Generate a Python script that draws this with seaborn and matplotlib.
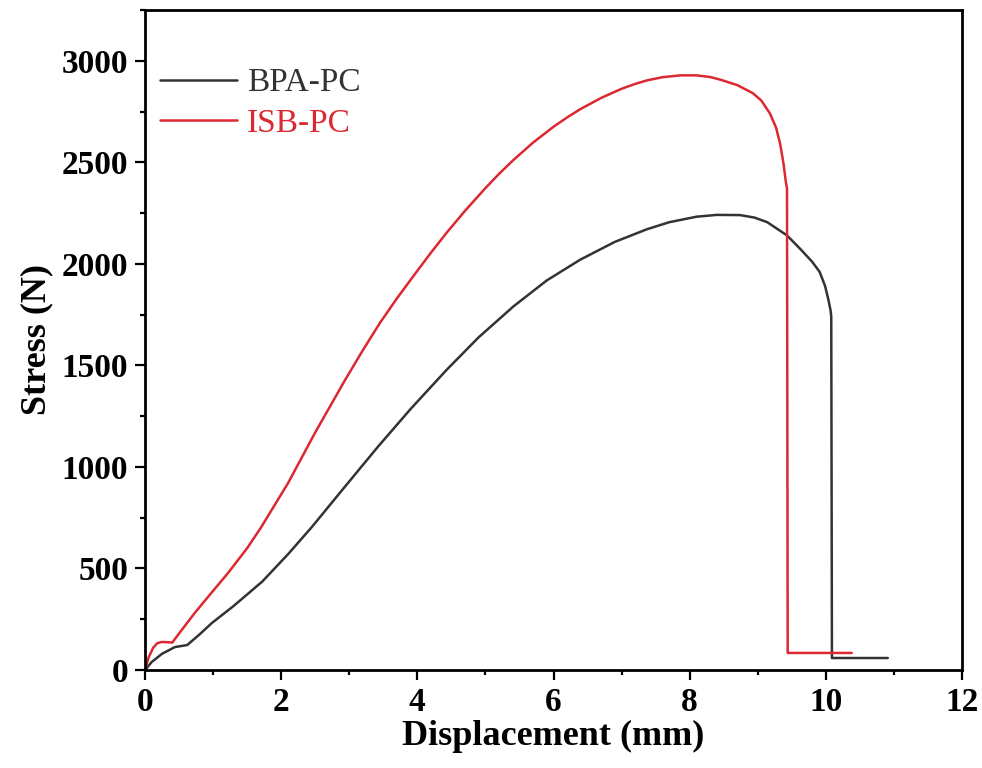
import pandas as pd
import matplotlib
matplotlib.use("Agg")
import matplotlib.pyplot as plt
from matplotlib.ticker import MultipleLocator
import seaborn as sns

# Data
bpa_x = [0, 0.1, 0.25, 0.44, 0.62, 0.8, 0.98, 1.3, 1.72, 2.1, 2.45, 2.9,
         3.42, 3.9, 4.43, 4.9, 5.41, 5.9, 6.39, 6.9, 7.37, 7.7, 8.1, 8.4,
         8.74, 8.95, 9.14, 9.43, 9.62, 9.8, 9.91, 9.99, 10.04, 10.07, 10.08,
         10.09, 10.91]
bpa_y = [0, 40, 80, 113, 123, 175, 231, 315, 435, 570, 704, 888,
         1099, 1285, 1478, 1638, 1790, 1918, 2020, 2108, 2170, 2205, 2232, 2241,
         2240, 2228, 2205, 2140, 2075, 2010, 1960, 1890, 1820, 1770, 1740,
         59, 59]

isb_x = [0, 0.05, 0.12, 0.18, 0.25, 0.33, 0.40, 0.5, 0.73, 1.0, 1.22, 1.5,
         1.7, 2.1, 2.5, 2.94, 3.2, 3.45, 3.7, 4.0, 4.2, 4.43, 4.7, 5.0, 5.2,
         5.41, 5.7, 6.0, 6.2, 6.39, 6.7, 7.0, 7.2, 7.37, 7.6, 7.86, 8.1, 8.3,
         8.45, 8.7, 8.93, 9.05, 9.18, 9.27, 9.33, 9.38, 9.41, 9.43, 9.44, 10.38]
isb_y = [0, 60, 110, 132, 138, 137, 135, 180, 281, 390, 478, 600,
         700, 920, 1170, 1429, 1575, 1709, 1830, 1966, 2055, 2153, 2261, 2373, 2443,
         2511, 2597, 2675, 2721, 2761, 2817, 2862, 2886, 2903, 2919, 2928, 2928, 2920,
         2907, 2880, 2840, 2805, 2740, 2670, 2590, 2490, 2410, 2370, 84, 84]

labels = ["BPA-PC", "ISB-PC"]
colors = {"BPA-PC": "#333333", "ISB-PC": "#DC2831"}

df = pd.concat([
    pd.DataFrame({"x": bpa_x, "y": bpa_y, "sample": "BPA-PC"}),
    pd.DataFrame({"x": isb_x, "y": isb_y, "sample": "ISB-PC"}),
], ignore_index=True)

sns.set_style("ticks")
plt.rcParams["font.family"] = ["Liberation Serif", "DejaVu Serif"]
plt.rcParams["text.color"] = "black"
plt.rcParams["axes.labelcolor"] = "black"
plt.rcParams["xtick.color"] = "black"
plt.rcParams["ytick.color"] = "black"
plt.rcParams["axes.edgecolor"] = "black"

fig, ax = plt.subplots(figsize=(9.82, 7.68), dpi=100)
fig.subplots_adjust(left=0.1477, right=0.9796, bottom=0.1276, top=0.987)

sns.lineplot(data=df, x="x", y="y", hue="sample", palette=colors,
             estimator=None, sort=False, linewidth=1.8, ax=ax)

ax.set_xlim(0, 12)
ax.set_ylim(0, 3250)
ax.xaxis.set_major_locator(MultipleLocator(2))
ax.xaxis.set_minor_locator(MultipleLocator(1))
ax.yaxis.set_major_locator(MultipleLocator(500))
ax.yaxis.set_minor_locator(MultipleLocator(250))

for s in ax.spines.values():
    s.set_linewidth(2)
ax.tick_params(which="major", direction="out", length=7, width=1.6,
               labelsize=24, pad=5)
ax.tick_params(which="minor", direction="out", length=3.5, width=1.6)
for lab in ax.get_xticklabels() + ax.get_yticklabels():
    lab.set_fontweight("bold")

ax.set_xlabel("Displacement (mm)", fontsize=26, fontweight="bold", labelpad=2)
ax.set_ylabel("Stress (N)", fontsize=26, fontweight="bold", labelpad=6)

handles, _ = ax.get_legend_handles_labels()
leg = ax.legend(handles, labels, loc="upper left", bbox_to_anchor=(-0.018, 0.958),
                frameon=False, fontsize=24, handlelength=2.3,
                handletextpad=0.3, labelspacing=0.3)
for txt, name in zip(leg.get_texts(), labels):
    txt.set_color(colors[name])

plt.savefig("out.png", dpi=100)
